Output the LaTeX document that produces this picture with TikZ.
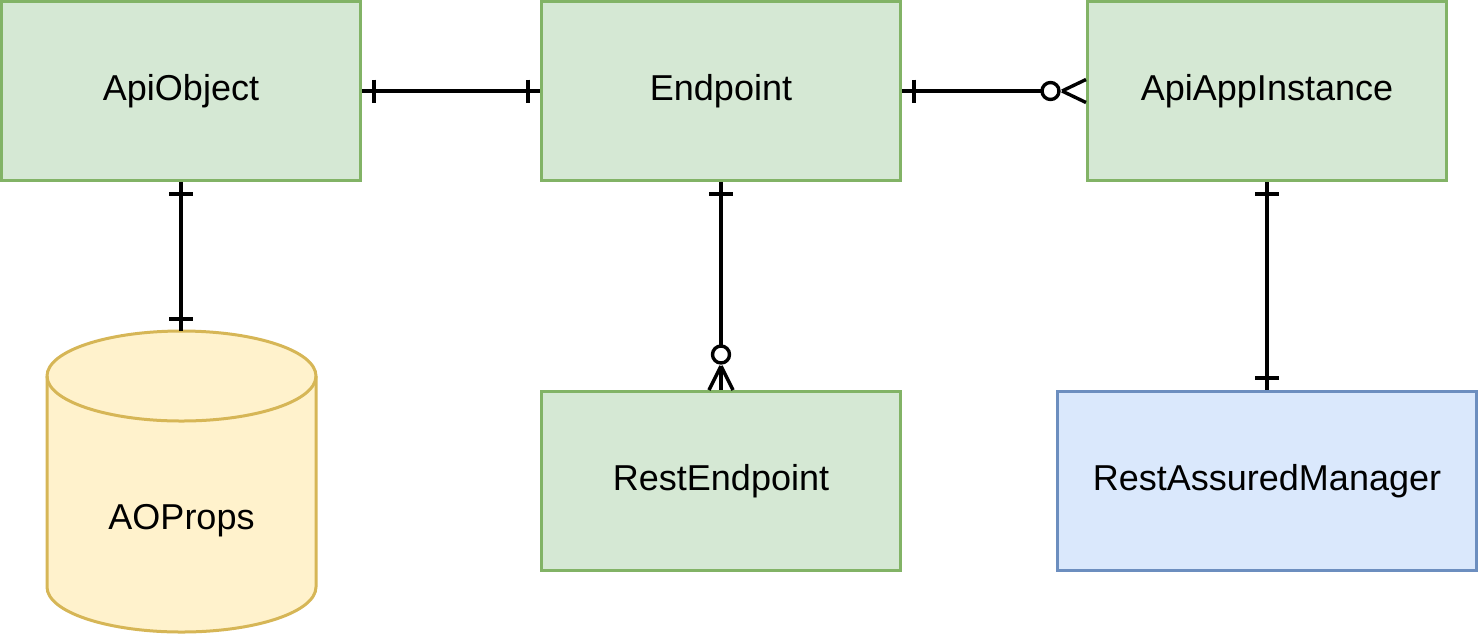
\documentclass[tikz,border=0pt]{standalone}
\usepackage{fontspec}
\setmainfont{Liberation Sans}
\definecolor{gfill}{HTML}{D5E8D4}
\definecolor{gline}{HTML}{82B366}
\definecolor{yfill}{HTML}{FFF2CC}
\definecolor{yline}{HTML}{D6B656}
\definecolor{bfill}{HTML}{DAE8FC}
\definecolor{bline}{HTML}{6C8EBF}
\begin{document}
\begin{tikzpicture}[x=1pt,y=1pt,
  ent/.style={draw=gline, fill=gfill, line width=3pt, minimum width=359pt, minimum height=179pt, inner sep=0pt, font=\fontsize{36}{43}\selectfont},
  bent/.style={ent, draw=bline, fill=bfill, minimum width=419pt},
  lbl/.style={inner sep=0pt, font=\fontsize{36}{43}\selectfont},
  conn/.style={line width=3.4pt, draw=black},
  tick/.style={line width=3.4pt, draw=black}]
\useasboundingbox (0,0) rectangle (1479,-633);
% entities
\node[ent] (ao) at (181,-91) {ApiObject};
\node[ent] (ep) at (721,-91) {Endpoint};
\node[ent] (aai) at (1267,-91) {ApiAppInstance};
\node[ent] (re) at (721,-481) {RestEndpoint};
\node[bent] (ram) at (1267,-481) {RestAssuredManager};
% cylinder
\draw[draw=yline, fill=yfill, line width=3pt]
  (47,-376) -- (47,-587) arc (180:360:134.5 and 45) -- (316,-376) arc (0:180:134.5 and 45) -- cycle;
\draw[draw=yline, line width=3pt] (47,-376) arc (180:360:134.5 and 45);
\coordinate (aoptop) at (181,-331);
\node[lbl] (aop) at (181.5,-521) {AOProps};
% ApiObject -- Endpoint (one to one)
\draw[conn] (ao.east) -- (ep.west);
\draw[tick] ([xshift=12pt]ao.east) ++(0,11.5) -- ++(0,-23);
\draw[tick] ([xshift=-12pt]ep.west) ++(0,11.5) -- ++(0,-23);
% Endpoint -- ApiAppInstance (one to zero-or-many)
\draw[conn] (ep.east) -- ([xshift=-44pt]aai.west);
\draw[tick] ([xshift=12pt]ep.east) ++(0,11.5) -- ++(0,-23);
\draw[conn, fill=white] ([xshift=-35.5pt]aai.west) circle (8.5pt);
\draw[conn] ([xshift=-24pt]aai.west) -- ++(24,11.5);
\draw[conn] ([xshift=-24pt]aai.west) -- ++(24,-11.5);
% Endpoint -- RestEndpoint (one to zero-or-many)
\draw[conn] (ep.south) -- ([yshift=44pt]re.north);
\draw[tick] ([yshift=-12pt]ep.south) ++(-12,0) -- ++(24,0);
\draw[conn, fill=white] ([yshift=35.5pt]re.north) circle (8.5pt);
\draw[conn] ([yshift=24pt]re.north) -- ++(-12,-24);
\draw[conn] ([yshift=24pt]re.north) -- ++(12,-24);
\draw[conn] ([yshift=24pt]re.north) -- (re.north);
% ApiObject -- AOProps (one to one)
\draw[conn] (ao.south) -- (aoptop);
\draw[tick] ([yshift=-12pt]ao.south) ++(-12,0) -- ++(24,0);
\draw[tick] ([yshift=12pt]aoptop) ++(-12,0) -- ++(24,0);
% ApiAppInstance -- RestAssuredManager (one to one)
\draw[conn] (aai.south) -- (ram.north);
\draw[tick] ([yshift=-12pt]aai.south) ++(-12,0) -- ++(24,0);
\draw[tick] ([yshift=12pt]ram.north) ++(-12,0) -- ++(24,0);
\end{tikzpicture}
\end{document}
